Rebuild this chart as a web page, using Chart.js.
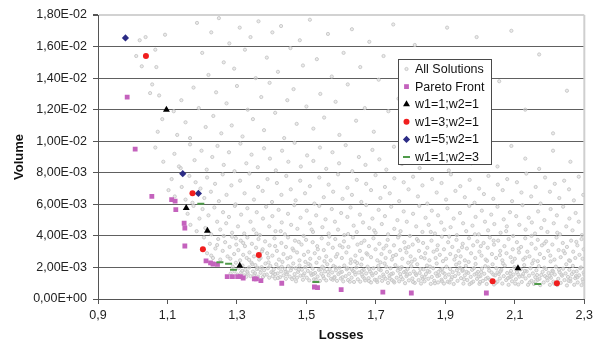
<!DOCTYPE html>
<html>
<head>
<meta charset="utf-8">
<script src="https://cdn.jsdelivr.net/npm/chart.js@4.4.1/dist/chart.umd.min.js"></script>
<style>
html,body{margin:0;padding:0;background:#fff;}
#wrap{width:597px;height:343px;position:relative;}
</style>
</head>
<body>
<div id="wrap"><canvas id="c" width="597" height="343"></canvas></div>
<script>
// ---------- DATA (Losses on x, Volume on y in units of 1E-03) ----------
const VOLUME_UNIT = 1e-3;
const xTickValues = [0.9, 1.1, 1.3, 1.5, 1.7, 1.9, 2.1, 2.3];
const xTickLabels = ['0,9', '1,1', '1,3', '1,5', '1,7', '1,9', '2,1', '2,3'];
const yTickValuesE3 = [0, 2, 4, 6, 8, 10, 12, 14, 16, 18];

const paretoLosses = [0.984,1.007,1.055,1.112,1.122,1.124,1.148,1.150,1.150,1.211,1.224,1.231,1.244,1.272,1.287,1.302,1.310,1.318,1.350,1.356,1.369,1.429,1.523,1.532,1.600,1.720,1.802,2.018];
const paretoVolumeE3 = [12.8,9.5,6.5,6.3,6.2,5.66,4.8,4.5,3.36,2.42,2.29,2.22,2.2,1.42,1.42,1.42,1.42,1.33,1.28,1.28,1.16,1.0,0.76,0.72,0.59,0.44,0.38,0.38];

const w11Losses = [1.097,1.154,1.215,1.308,2.109];
const w11VolumeE3 = [12.0,5.76,4.32,2.1,1.95];

const w31Losses = [1.038,1.172,1.202,1.363,2.036,2.221];
const w31VolumeE3 = [15.4,6.71,3.16,2.79,1.12,1.0];

const w51Losses = [0.979,1.144,1.189];
const w51VolumeE3 = [16.55,7.94,6.69];

const w13Losses = [1.196,1.251,1.276,1.290,1.527,2.166];
const w13VolumeE3 = [6.03,2.33,2.24,1.86,1.08,0.95];

// All Solutions cloud, flat pairs: losses, volume(E-03)
const cloudUpper = [1.02,16.4,1.037,16.6,1.01,15.4,1.026,14.75,1.065,15.8,1.068,14.7,1.056,13.6,1.05,13.05,1.076,12.9,1.093,16.75,1.085,11.4,1.072,10.6,1.118,11.9,1.128,10.4,1.14,12.6,1.152,11.2,1.165,10.2,1.175,13.4,1.185,17.5,1.19,12.1,1.2,15.6,1.21,10.9,1.218,14.2,1.226,16.9,1.232,11.6,1.24,13.1,1.248,17.8,1.255,10.5,1.262,15.0,1.27,12.4,1.278,16.2,1.285,11.0,1.292,14.6,1.3,13.5,1.308,17.2,1.316,10.3,1.323,15.8,1.331,12.0,1.339,16.6,1.346,11.4,1.354,14.0,1.362,17.6,1.37,12.8,1.378,10.7,1.386,15.3,1.394,13.7,1.402,16.9,1.41,11.8,1.418,14.4,1.427,17.3,1.436,10.2,1.445,12.6,1.454,15.9,1.463,13.3,1.472,11.1,1.481,16.4,1.49,14.8,1.5,12.2,1.51,17.7,1.52,10.8,1.53,15.2,1.54,13.0,1.551,11.5,1.562,16.8,1.573,14.1,1.584,12.5,1.595,10.4,1.607,15.6,1.619,13.6,1.631,17.1,1.643,11.3,1.655,14.7,1.668,12.1,1.681,16.3,1.694,10.6,1.708,13.9,1.722,15.4,1.736,11.9,1.75,17.4,1.765,12.7,1.78,14.5,1.796,10.9,1.812,16.1,1.828,13.2,1.845,11.6,1.863,15.0,1.883,12.3,1.905,17.2,1.93,10.7,1.958,14.3,1.99,16.6,2.02,11.2,2.055,13.8,2.09,17.0,2.13,12.0,2.17,15.5,2.21,10.5,2.25,13.2];

const cloudUpperMid = [1.065,9.6,1.088,8.7,1.12,9.2,1.138,8.3,1.165,9.8,1.178,8.8,1.198,9.4,1.213,8.2,1.229,9.0,1.244,9.7,1.262,8.5,1.277,9.3,1.293,8.1,1.31,9.85,1.327,8.6,1.342,9.15,1.36,8.35,1.378,9.55,1.395,8.9,1.412,8.15,1.43,9.4,1.448,8.7,1.466,9.9,1.484,8.4,1.502,9.1,1.52,8.75,1.539,9.6,1.557,8.25,1.575,9.3,1.594,8.6,1.613,9.75,1.632,8.1,1.651,9.0,1.67,8.5,1.69,9.45,1.71,8.85,1.73,8.2,1.752,9.65,1.775,8.55,1.8,9.2,1.826,8.3,1.853,9.5,1.88,8.8,1.91,8.15,1.94,9.35,1.975,8.6,2.01,9.1,2.05,8.4,2.09,9.7,2.13,8.9,2.17,8.25,2.21,9.4,2.26,8.7];

const cloudMidHigh = [1.103,6.9,1.112,7.6,1.121,6.5,1.133,8.4,1.141,7.1,1.152,6.3,1.163,7.8,1.172,6.1,1.181,7.4,1.195,7.0,1.206,6.4,1.214,7.7,1.225,6.8,1.237,7.3,1.248,6.2,1.259,7.9,1.27,6.6,1.284,7.2,1.296,6.0,1.309,7.5,1.322,6.7,1.336,7.95,1.349,6.3,1.361,7.1,1.374,6.85,1.388,7.6,1.401,6.15,1.415,7.35,1.428,6.6,1.442,7.8,1.455,6.95,1.469,6.25,1.482,7.5,1.496,6.7,1.51,7.15,1.523,6.05,1.537,7.7,1.55,6.45,1.564,7.25,1.577,6.8,1.591,7.9,1.604,6.35,1.618,7.05,1.631,6.6,1.645,7.55,1.658,6.15,1.672,7.3,1.686,6.9,1.699,7.85,1.713,6.4,1.726,7.1,1.74,6.7,1.753,7.65,1.767,6.2,1.78,7.4,1.794,6.95,1.807,7.75,1.821,6.5,1.834,7.2,1.848,6.05,1.862,7.6,1.875,6.75,1.889,7.35,1.902,6.3,1.916,7.9,1.929,6.85,1.943,7.15,1.956,6.45,1.97,7.55,1.984,6.1,1.997,7.0,2.011,6.65,2.024,7.8,2.038,6.35,2.051,7.25,2.065,6.9,2.078,7.6,2.092,6.2,2.106,7.4,2.119,6.75,2.133,7.95,2.147,6.5,2.16,7.1,2.174,6.05,2.187,7.7,2.201,6.8,2.215,7.3,2.228,6.4,2.242,7.5,2.256,6.95,2.27,6.25,2.284,7.75,2.297,6.6];

const cloudMid = [1.158,5.4,1.166,4.7,1.175,5.9,1.184,4.3,1.192,5.1,1.201,5.7,1.209,4.5,1.218,5.3,1.226,4.1,1.235,5.8,1.243,4.9,1.252,4.4,1.26,5.5,1.269,4.8,1.277,5.2,1.286,4.2,1.294,5.9,1.303,4.6,1.312,5.35,1.321,4.15,1.33,5.75,1.339,4.9,1.348,4.4,1.357,5.5,1.366,4.05,1.375,5.1,1.384,5.85,1.393,4.6,1.402,5.25,1.411,4.3,1.42,5.65,1.429,4.85,1.438,4.1,1.447,5.4,1.456,4.7,1.465,5.95,1.474,4.45,1.483,5.15,1.492,4.0,1.501,5.6,1.51,4.8,1.519,4.25,1.528,5.3,1.537,5.9,1.546,4.55,1.555,5.05,1.564,4.15,1.573,5.7,1.582,4.9,1.591,4.4,1.6,5.45,1.609,4.05,1.618,5.2,1.627,5.8,1.636,4.65,1.645,4.25,1.654,5.35,1.663,4.85,1.672,5.95,1.681,4.5,1.69,5.1,1.699,4.2,1.708,5.65,1.717,4.75,1.726,5.25,1.735,4.1,1.744,5.85,1.753,4.45,1.762,5.0,1.771,4.3,1.78,5.55,1.789,4.9,1.798,4.0,1.807,5.4,1.816,4.6,1.825,5.9,1.834,4.25,1.843,5.15,1.852,4.7,1.861,5.6,1.87,4.15,1.879,5.3,1.888,4.85,1.897,4.4,1.906,5.75,1.915,4.55,1.924,5.1,1.933,4.05,1.942,5.45,1.951,4.8,1.96,4.3,1.969,5.9,1.978,4.65,1.987,5.2,1.996,4.1,2.005,5.6,2.014,4.9,2.023,4.35,2.032,5.35,2.041,4.75,2.05,5.85,2.059,4.2,2.068,5.05,2.077,4.6,2.086,5.5,2.095,4.0,2.104,5.25,2.113,4.7,2.122,5.95,2.131,4.4,2.14,5.15,2.149,4.85,2.158,4.15,2.167,5.55,2.176,4.5,2.185,5.0,2.194,4.25,2.203,5.7,2.212,4.8,2.221,5.3,2.23,4.1,2.239,5.85,2.248,4.6,2.257,5.1,2.266,4.35,2.275,5.45,2.284,4.9,2.293,4.05];

const cloudLow = [1.205,3.9,1.214,2.9,1.222,3.5,1.231,2.6,1.238,3.2,1.246,3.8,1.252,2.5,1.259,3.05,1.266,3.6,1.273,2.7,1.279,3.3,1.286,3.95,1.292,2.85,1.298,3.45,1.304,3.1,1.311,3.7,1.318,2.8,1.323,3.35,1.33,3.9,1.336,2.95,1.343,3.5,1.349,2.7,1.355,3.25,1.362,3.8,1.368,2.6,1.374,3.15,1.381,3.65,1.387,2.9,1.394,3.4,1.402,2.75,1.408,3.85,1.415,3.05,1.421,2.5,1.428,3.55,1.434,2.85,1.441,3.3,1.447,3.9,1.454,2.65,1.46,3.2,1.467,3.7,1.473,2.95,1.48,2.45,1.486,3.45,1.493,2.8,1.499,3.75,1.505,3.0,1.511,2.55,1.518,3.6,1.524,2.9,1.531,3.35,1.537,2.6,1.544,3.85,1.55,3.1,1.557,2.7,1.563,3.5,1.57,2.45,1.576,3.25,1.583,3.8,1.589,2.85,1.596,3.4,1.602,2.6,1.608,3.65,1.615,2.95,1.621,3.3,1.628,2.5,1.634,3.9,1.641,2.75,1.647,3.45,1.654,3.05,1.66,2.55,1.667,3.7,1.673,2.9,1.68,3.35,1.686,2.65,1.693,3.85,1.699,3.15,1.704,2.45,1.71,3.5,1.716,2.85,1.722,3.2,1.728,2.6,1.734,3.75,1.74,3.0,1.746,2.5,1.752,3.4,1.758,2.8,1.764,3.9,1.77,3.1,1.776,2.55,1.782,3.6,1.788,2.95,1.794,3.3,1.8,2.7,1.806,3.45,1.812,2.5,1.818,3.8,1.824,3.05,1.83,2.65,1.836,3.55,1.842,2.9,1.848,3.25,1.854,2.45,1.86,3.7,1.866,3.0,1.872,2.6,1.878,3.4,1.884,2.8,1.89,3.95,1.896,3.15,1.902,2.55,1.908,3.6,1.914,2.85,1.92,3.3,1.926,2.5,1.932,3.75,1.938,3.05,1.944,2.7,1.95,3.5,1.956,2.45,1.962,3.2,1.968,3.85,1.974,2.9,1.98,3.4,1.986,2.6,1.992,3.65,1.998,3.0,2.004,2.75,2.01,3.55,2.016,2.5,2.022,3.25,2.028,3.9,2.034,2.85,2.04,3.45,2.046,2.6,2.052,3.7,2.058,3.05,2.064,2.45,2.07,3.35,2.076,2.9,2.082,3.8,2.088,2.65,2.094,3.15,2.1,2.55,2.106,3.6,2.112,2.95,2.118,3.3,2.124,2.5,2.13,3.85,2.136,3.0,2.142,2.7,2.148,3.5,2.154,2.45,2.16,3.2,2.166,3.75,2.172,2.85,2.178,3.4,2.184,2.6,2.19,3.65,2.196,3.05,2.202,2.75,2.208,3.45,2.214,2.5,2.22,3.9,2.226,3.1,2.232,2.65,2.238,3.55,2.244,2.9,2.25,3.3,2.256,2.45,2.262,3.7,2.268,3.0,2.274,2.6,2.28,3.4,2.286,2.8,2.292,3.8,2.298,3.15];

const cloudLowExtra = [1.226,2.75,1.243,3.42,1.262,4.0,1.281,2.55,1.297,3.85,1.318,3.55,1.335,2.48,1.356,4.15,1.372,3.02,1.39,2.62,1.41,3.35,1.426,4.3,1.445,2.58,1.463,3.08,1.478,3.62,1.497,2.35,1.515,4.4,1.533,3.15,1.552,2.4,1.566,3.95,1.585,2.68,1.604,3.28,1.62,4.12,1.64,2.38,1.658,3.55,1.676,2.82,1.695,4.35,1.713,2.32,1.73,3.38,1.749,2.72,1.768,4.05,1.785,3.22,1.803,2.36,1.822,3.68,1.84,2.58,1.858,4.25,1.876,3.12,1.893,2.4,1.911,3.95,1.93,2.72,1.948,3.28,1.967,2.35,1.985,4.1,2.002,3.35,2.02,2.42,2.039,3.7,2.057,2.78,2.075,4.3,2.093,2.35,2.111,3.18,2.13,2.62,2.148,4.0,2.166,2.4,2.185,3.52,2.203,2.38,2.222,4.2,2.24,3.05,2.259,2.42,2.277,3.62,2.295,2.55];

const cloudBand = [1.282,1.62,1.288,2.05,1.293,1.75,1.297,2.3,1.301,1.55,1.305,1.95,1.309,2.45,1.312,1.68,1.316,2.12,1.321,1.5,1.324,1.85,1.328,2.6,1.331,1.62,1.335,2.0,1.339,1.45,1.342,2.3,1.346,1.74,1.35,1.52,1.353,2.15,1.357,1.9,1.361,1.42,1.364,2.5,1.368,1.66,1.371,2.02,1.375,1.4,1.378,1.82,1.382,2.25,1.386,1.55,1.389,1.95,1.393,1.35,1.396,2.1,1.399,1.7,
1.403,1.45,1.406,1.88,1.41,1.3,1.413,2.2,1.417,1.62,1.42,1.98,1.424,1.38,1.427,1.75,1.431,2.35,1.434,1.5,1.438,1.9,1.441,1.28,1.445,1.68,1.448,2.08,1.452,1.42,1.455,1.82,1.459,1.26,1.462,2.25,1.466,1.58,1.469,1.95,1.473,1.35,1.476,1.72,1.48,2.12,1.483,1.48,1.487,1.86,1.49,1.22,1.494,1.62,1.497,2.02,
1.501,1.35,1.504,1.78,1.508,1.18,1.511,2.15,1.515,1.52,1.518,1.92,1.522,1.25,1.525,1.65,1.529,2.3,1.532,1.42,1.536,1.85,1.539,1.15,1.543,1.6,1.546,2.05,1.55,1.32,1.553,1.75,1.557,1.18,1.56,2.2,1.564,1.5,1.567,1.9,1.571,1.28,1.574,1.68,1.578,2.1,1.581,1.4,1.585,1.82,1.588,1.15,1.592,1.58,1.595,1.98,1.599,1.3,
1.602,1.72,1.606,1.12,1.609,2.12,1.613,1.45,1.616,1.88,1.62,1.2,1.623,1.6,1.627,2.28,1.63,1.35,1.634,1.78,1.637,1.08,1.641,1.55,1.644,2.0,1.648,1.25,1.651,1.68,1.655,1.1,1.658,2.18,1.662,1.42,1.665,1.85,1.669,1.18,1.672,1.62,1.676,2.05,1.679,1.32,1.683,1.75,1.686,1.05,1.69,1.5,1.693,1.95,1.697,1.22,
1.7,1.65,1.704,1.08,1.707,2.1,1.711,1.38,1.714,1.82,1.718,1.15,1.721,1.55,1.725,2.25,1.728,1.28,1.732,1.72,1.735,1.02,1.739,1.48,1.742,1.95,1.746,1.2,1.749,1.62,1.753,1.05,1.756,2.15,1.76,1.35,1.763,1.8,1.767,1.12,1.77,1.58,1.774,2.02,1.777,1.25,1.781,1.7,1.784,1.0,1.788,1.45,1.791,1.9,1.795,1.18,1.798,1.6,
1.802,2.08,1.805,1.3,1.809,1.75,1.812,1.02,1.816,1.52,1.819,2.2,1.823,1.2,1.826,1.65,1.83,0.98,1.833,1.42,1.837,1.88,1.84,1.12,1.844,1.58,1.847,2.12,1.851,1.28,1.854,1.72,1.858,0.96,1.861,1.4,1.865,1.95,1.868,1.15,1.872,1.62,1.875,2.25,1.879,1.05,1.882,1.5,1.886,1.85,1.889,1.22,1.893,1.68,1.896,0.98,1.9,1.38,
1.903,2.05,1.907,1.1,1.91,1.55,1.914,1.9,1.917,1.25,1.921,1.7,1.924,0.95,1.928,1.45,1.931,2.18,1.935,1.15,1.938,1.6,1.942,1.98,1.945,1.32,1.949,1.78,1.952,0.98,1.956,1.5,1.959,2.1,1.963,1.2,1.966,1.65,1.97,0.94,1.973,1.4,1.977,1.85,1.98,1.1,1.984,1.55,1.987,2.22,1.991,1.28,1.994,1.72,1.998,0.96,
2.001,1.45,2.005,1.92,2.008,1.15,2.012,1.6,2.015,2.08,2.019,0.95,2.022,1.35,2.026,1.8,2.029,1.22,2.033,1.68,2.036,2.2,2.04,0.92,2.043,1.5,2.047,1.95,2.05,1.1,2.054,1.58,2.057,1.3,2.061,1.85,2.064,0.98,2.068,1.45,2.071,2.12,2.075,1.2,2.078,1.65,2.082,0.9,2.085,1.38,2.089,1.78,2.092,1.12,2.096,1.55,2.099,2.02,
2.103,1.25,2.106,1.7,2.11,0.92,2.113,1.42,2.117,1.88,2.12,1.08,2.124,1.58,2.127,2.15,2.131,1.3,2.134,1.75,2.138,0.9,2.141,1.48,2.145,1.95,2.148,1.15,2.152,1.62,2.155,0.95,2.159,1.38,2.162,1.82,2.166,1.22,2.169,2.08,2.173,0.88,2.176,1.52,2.18,1.72,2.183,1.05,2.187,1.45,2.19,1.9,2.194,1.18,2.197,1.65,
2.201,0.9,2.204,1.35,2.208,1.8,2.211,1.1,2.215,1.55,2.218,2.05,2.222,0.88,2.225,1.28,2.229,1.7,2.232,1.02,2.236,1.48,2.239,1.92,2.243,1.2,2.246,1.62,2.25,0.86,2.253,1.4,2.257,1.85,2.26,1.12,2.264,1.58,2.267,2.1,2.271,0.9,2.274,1.32,2.278,1.75,2.281,1.05,2.285,1.5,2.288,1.95,2.292,0.88,2.295,1.25,2.298,1.68];

const cloudBandExtra = [1.315,1.78,1.327,1.41,1.344,2.2,1.352,1.63,1.366,1.88,1.379,1.52,1.391,2.32,1.404,1.66,1.418,1.33,1.429,2.05,1.443,1.57,1.457,1.97,1.464,1.36,1.478,1.85,1.491,1.5,1.506,2.22,1.513,1.63,1.527,1.22,1.541,1.88,1.548,1.45,1.562,1.72,1.576,1.22,1.583,2.02,1.597,1.68,1.604,1.38,1.618,1.95,1.625,1.1,1.639,1.7,1.646,2.28,1.66,1.55,1.667,1.3,1.681,1.9,1.688,1.62,1.702,1.2,1.709,1.88,1.723,1.42,1.73,2.05,1.744,1.58,1.751,1.12,1.765,1.98,1.772,1.4,1.786,1.75,1.793,2.3,1.807,1.08,1.814,1.62,1.828,1.9,1.835,1.28,1.849,1.78,1.856,2.05,1.87,1.0,1.877,1.45,1.891,1.9,1.898,1.6,1.912,1.05,1.919,1.38,1.933,1.82,1.94,2.3,1.954,1.25,1.961,1.72,1.975,1.02,1.982,1.95,1.996,1.42,2.003,1.7,2.017,1.28,2.024,2.0,2.038,1.55,2.045,1.02,2.059,1.75,2.066,2.25,2.08,1.32,2.087,1.62,2.101,0.98,2.108,1.9,2.122,1.45,2.129,1.78,2.143,1.05,2.15,2.25,2.164,1.52,2.171,1.28,2.185,1.98,2.192,1.35,2.206,1.62,2.213,0.98,2.227,1.85,2.234,1.55,2.248,2.2,2.255,1.15,2.269,1.72,2.276,1.45,2.29,2.0,2.297,1.1,1.36,1.98,1.41,1.58,1.47,1.12,1.52,1.58,1.58,1.33,1.63,1.9,1.68,1.14,1.74,1.3,1.79,1.55,1.84,1.38,1.89,1.12,1.95,1.85,2.0,1.08,2.05,1.68,2.11,1.55,2.16,1.12,2.21,1.75,2.26,1.3,2.3,1.55,1.33,1.72,1.44,1.72,1.55,1.95,1.66,1.78,1.77,1.9,1.88,1.72,1.99,1.62,2.09,1.42,2.2,1.45,2.28,1.38];

// ---------- helpers ----------
function pairs(flat) {
  const out = [];
  for (let i = 0; i + 1 < flat.length; i += 2) out.push({ x: flat[i], y: flat[i + 1] * VOLUME_UNIT });
  return out;
}
function zipPts(xs, ysE3) { return xs.map((x, i) => ({ x: x, y: ysE3[i] * VOLUME_UNIT })); }
function sci(v) {
  if (Math.abs(v) < 1e-12) return '0,00E+00';
  const parts = v.toExponential(2).split('e');
  const n = parseInt(parts[1], 10);
  return parts[0].replace('.', ',') + 'E' + (n < 0 ? '-' : '+') + String(Math.abs(n)).padStart(2, '0');
}

const FONT = '"Liberation Sans", Arial, sans-serif';
const cloudAll = [].concat(pairs(cloudUpper), pairs(cloudUpperMid), pairs(cloudMidHigh), pairs(cloudMid), pairs(cloudLow), pairs(cloudLowExtra), pairs(cloudBand), pairs(cloudBandExtra));

const series = [
  { label: 'All Solutions', data: cloudAll, pointStyle: 'circle', pointRadius: 1.6, borderWidth: 0.9, borderColor: '#c6c6c6', backgroundColor: 'rgba(215,215,215,0.5)', order: 10 },
  { label: 'Pareto Front', data: zipPts(paretoLosses, paretoVolumeE3), pointStyle: 'rect', pointRadius: 3.4, borderWidth: 0, borderColor: '#c462bd', backgroundColor: '#c462bd', order: 5 },
  { label: 'w1=1;w2=1', data: zipPts(w11Losses, w11VolumeE3), pointStyle: 'triangle', pointRadius: 4, borderWidth: 0, borderColor: '#000', backgroundColor: '#000', order: 1 },
  { label: 'w1=3;w2=1', data: zipPts(w31Losses, w31VolumeE3), pointStyle: 'circle', pointRadius: 3, borderWidth: 0, borderColor: '#f01e1e', backgroundColor: '#f01e1e', order: 2 },
  { label: 'w1=5;w2=1', data: zipPts(w51Losses, w51VolumeE3), pointStyle: 'rectRot', pointRadius: 3.6, borderWidth: 0, borderColor: '#2b2b85', backgroundColor: '#2b2b85', order: 3 },
  { label: 'w1=1;w2=3', data: zipPts(w13Losses, w13VolumeE3), pointStyle: 'line', pointRadius: 3.5, borderWidth: 2, borderColor: '#4f9a4a', backgroundColor: '#4f9a4a', order: 4 }
];

const legendBoxPlugin = {
  id: 'legendBox',
  afterDraw(chart) {
    const ctx = chart.ctx;
    const bx = 398, by = 59, bw = 93, bh = 105;
    ctx.save();
    ctx.fillStyle = '#ffffff';
    ctx.fillRect(bx, by, bw, bh);
    ctx.strokeStyle = '#4a4a4a';
    ctx.lineWidth = 1;
    ctx.strokeRect(bx + 0.5, by + 0.5, bw, bh);
    ctx.font = '12.5px ' + FONT;
    ctx.textBaseline = 'middle';
    ctx.textAlign = 'left';
    series.forEach((s, i) => {
      const cy = 69 + i * 17.6;
      const opts = { pointStyle: s.pointStyle, radius: s.pointRadius, rotation: 0, borderWidth: s.borderWidth };
      ctx.fillStyle = s.backgroundColor;
      ctx.strokeStyle = s.borderColor;
      ctx.lineWidth = s.borderWidth;
      Chart.helpers.drawPoint(ctx, opts, 406.5, cy);
      ctx.fillStyle = '#111';
      ctx.fillText(s.label, 415, cy + 0.5);
    });
    ctx.restore();
  }
};

const frameRightPlugin = {
  id: 'frameRight',
  beforeDatasetsDraw(chart) {
    const a = chart.chartArea, ctx = chart.ctx;
    ctx.save();
    ctx.strokeStyle = '#cfcfcf';
    ctx.lineWidth = 2;
    ctx.beginPath();
    ctx.moveTo(a.right, a.top);
    ctx.lineTo(a.right, a.bottom);
    ctx.stroke();
    ctx.restore();
  }
};

new Chart(document.getElementById('c'), {
  type: 'scatter',
  data: { datasets: series.map(s => Object.assign({ showLine: false }, s)) },
  options: {
    responsive: false,
    animation: false,
    devicePixelRatio: 1,
    events: [],
    layout: { padding: { top: 15, right: 8, left: 0, bottom: 0 } },
    plugins: { legend: { display: false }, tooltip: { enabled: false }, title: { display: false } },
    scales: {
      x: {
        type: 'linear', min: 0.9, max: 2.3,
        afterBuildTicks(scale) { scale.ticks = xTickValues.map(v => ({ value: v })); },
        afterFit(scale) { scale.height = 44; },
        ticks: { callback: (v, i) => xTickLabels[i], color: '#222', font: { family: FONT, size: 12.5 }, padding: 4, maxRotation: 0, autoSkip: false },
        grid: { drawOnChartArea: false, drawTicks: true, tickLength: 5, tickColor: '#555', color: '#555' },
        border: { display: true, color: '#555', width: 1 },
        title: { display: true, text: 'Losses', color: '#111', font: { family: FONT, size: 13, weight: 'bold' }, padding: { top: 0, bottom: 0 } }
      },
      y: {
        type: 'linear', min: 0, max: 18 * VOLUME_UNIT,
        afterBuildTicks(scale) { scale.ticks = yTickValuesE3.map(v => ({ value: v * VOLUME_UNIT })); },
        afterFit(scale) { scale.width = 98; },
        ticks: { callback: v => sci(v), color: '#222', font: { family: FONT, size: 12.5 }, padding: 6, autoSkip: false },
        grid: {
          drawTicks: true, tickLength: 5, tickColor: '#555',
          color: ctx => (ctx.tick && Math.abs(ctx.tick.value - 18 * VOLUME_UNIT) < 1e-9) ? '#d2d2d2' : '#606060',
          lineWidth: ctx => (ctx.tick && Math.abs(ctx.tick.value - 18 * VOLUME_UNIT) < 1e-9) ? 2 : 1
        },
        border: { display: true, color: '#555', width: 1 },
        title: { display: true, text: 'Volume', color: '#111', font: { family: FONT, size: 13, weight: 'bold' }, padding: { top: 12, bottom: 0 } }
      }
    }
  },
  plugins: [frameRightPlugin, legendBoxPlugin]
});
</script>
</body>
</html>
